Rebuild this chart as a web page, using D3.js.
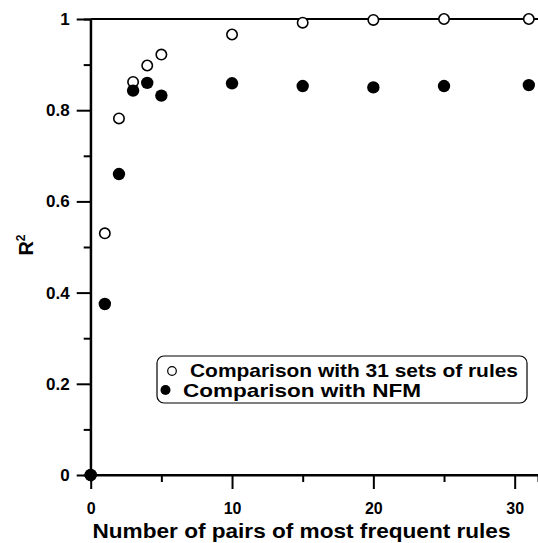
<!DOCTYPE html>
<html>
<head>
<meta charset="utf-8">
<script src="https://cdn.jsdelivr.net/npm/d3@7"></script>
<style>
  html, body { margin: 0; padding: 0; background: #fff; }
  svg { display: block; font-family: "Liberation Sans", Arial, sans-serif; }
</style>
</head>
<body>
<svg id="chart" width="538" height="543"></svg>
<script>
// Number of most frequent rule pairs used
const pairs = [0, 1, 2, 3, 4, 5, 10, 15, 20, 25, 31];
// R² against the 31 sets of rules (open circles)
const r2Sets = [0, 0.53, 0.782, 0.862, 0.898, 0.922, 0.966, 0.992, 0.998, 1.0, 1.0];
// R² against NFM (filled circles)
const r2Nfm = [0, 0.375, 0.66, 0.843, 0.86, 0.832, 0.859, 0.853, 0.85, 0.853, 0.855];

const xMajorTicks = [0, 10, 20, 30];
const xMinorTicks = [5, 15, 25];
const yMajorTicks = [0, 0.2, 0.4, 0.6, 0.8, 1];
const yMinorTicks = [0.1, 0.3, 0.5, 0.7, 0.9];
const yTickLabels = ["0", "0.2", "0.4", "0.6", "0.8", "1"];
const legendLabels = ["Comparison with 31 sets of rules", "Comparison with NFM"];

const svg = d3.select("#chart");

const x = d3.scaleLinear().domain([0, 31.65]).range([90.7, 538]);
const y = d3.scaleLinear().domain([0, 1]).range([475, 19]);

const axisStroke = 2;

// Top frame line
svg.append("line")
  .attr("x1", x(0)).attr("x2", 538)
  .attr("y1", y(1)).attr("y2", y(1))
  .attr("stroke", "#000").attr("stroke-width", axisStroke);

// Y axis: major ticks with labels, minor ticks without
const yAxis = svg.append("g")
  .attr("transform", `translate(${x(0)},0)`)
  .call(d3.axisLeft(y).tickValues(yMajorTicks).tickSize(14).tickPadding(7)
    .tickFormat((d, i) => yTickLabels[i]));
svg.append("g")
  .attr("transform", `translate(${x(0)},0)`)
  .call(d3.axisLeft(y).tickValues(yMinorTicks).tickSize(7).tickFormat(""));

// X axis
const xAxis = svg.append("g")
  .attr("transform", `translate(0,${y(0)})`)
  .call(d3.axisBottom(x).tickValues(xMajorTicks).tickSize(14).tickPadding(14)
    .tickFormat(d3.format("d")));
svg.append("g")
  .attr("transform", `translate(0,${y(0)})`)
  .call(d3.axisBottom(x).tickValues(xMinorTicks).tickSize(7).tickFormat(""));

svg.selectAll(".domain").attr("stroke", "#000").attr("stroke-width", axisStroke);
svg.selectAll(".tick line").attr("stroke", "#000").attr("stroke-width", axisStroke);
svg.selectAll(".tick text")
  .attr("fill", "#000")
  .attr("font-weight", "bold")
  .attr("font-family", "'Liberation Sans', Arial, sans-serif");
xAxis.selectAll(".tick text").attr("font-size", 16);
yAxis.selectAll(".tick text").attr("font-size", 17);
// Trim the domain paths to the frame
xAxis.select(".domain").attr("d", `M${x(0)},0H538`);
yAxis.select(".domain").attr("d", `M0,${y(0)}V${y(1)}`);

// Axis titles
svg.append("text")
  .attr("x", 92.5).attr("y", 538)
  .attr("font-size", 21).attr("font-weight", "bold")
  .attr("textLength", 418).attr("lengthAdjust", "spacingAndGlyphs")
  .text("Number of pairs of most frequent rules");

const yTitle = svg.append("text")
  .attr("transform", "translate(33,245) rotate(-90)")
  .attr("text-anchor", "middle")
  .attr("font-size", 20).attr("font-weight", "bold");
yTitle.append("tspan").text("R");
yTitle.append("tspan").attr("font-size", 12).attr("dy", -8).text("2");

// Data points
const plot = svg.append("g");
plot.selectAll(".open").data(pairs.map((p, i) => [p, r2Sets[i]]))
  .join("circle")
  .attr("class", "open")
  .attr("cx", d => x(d[0])).attr("cy", d => y(d[1]))
  .attr("r", 5.2)
  .attr("fill", "#fff").attr("stroke", "#000").attr("stroke-width", 1.6);
plot.selectAll(".filled").data(pairs.map((p, i) => [p, r2Nfm[i]]))
  .join("circle")
  .attr("class", "filled")
  .attr("cx", d => x(d[0])).attr("cy", d => y(d[1]))
  .attr("r", 6.2)
  .attr("fill", "#000");

// Legend
const legend = svg.append("g");
legend.append("rect")
  .attr("x", 157).attr("y", 356).attr("width", 370).attr("height", 47)
  .attr("rx", 7).attr("ry", 7)
  .attr("fill", "#fff").attr("stroke", "#000").attr("stroke-width", 1.2);
legend.append("circle")
  .attr("cx", 172).attr("cy", 371).attr("r", 4.3)
  .attr("fill", "#fff").attr("stroke", "#000").attr("stroke-width", 1.2);
legend.append("circle")
  .attr("cx", 165.5).attr("cy", 390).attr("r", 5)
  .attr("fill", "#000");
legend.append("text")
  .attr("x", 190).attr("y", 377)
  .attr("font-size", 19).attr("font-weight", "bold")
  .attr("textLength", 328).attr("lengthAdjust", "spacingAndGlyphs")
  .text(legendLabels[0]);
legend.append("text")
  .attr("x", 183).attr("y", 397)
  .attr("font-size", 19).attr("font-weight", "bold")
  .attr("textLength", 238).attr("lengthAdjust", "spacingAndGlyphs")
  .text(legendLabels[1]);
</script>
</body>
</html>
